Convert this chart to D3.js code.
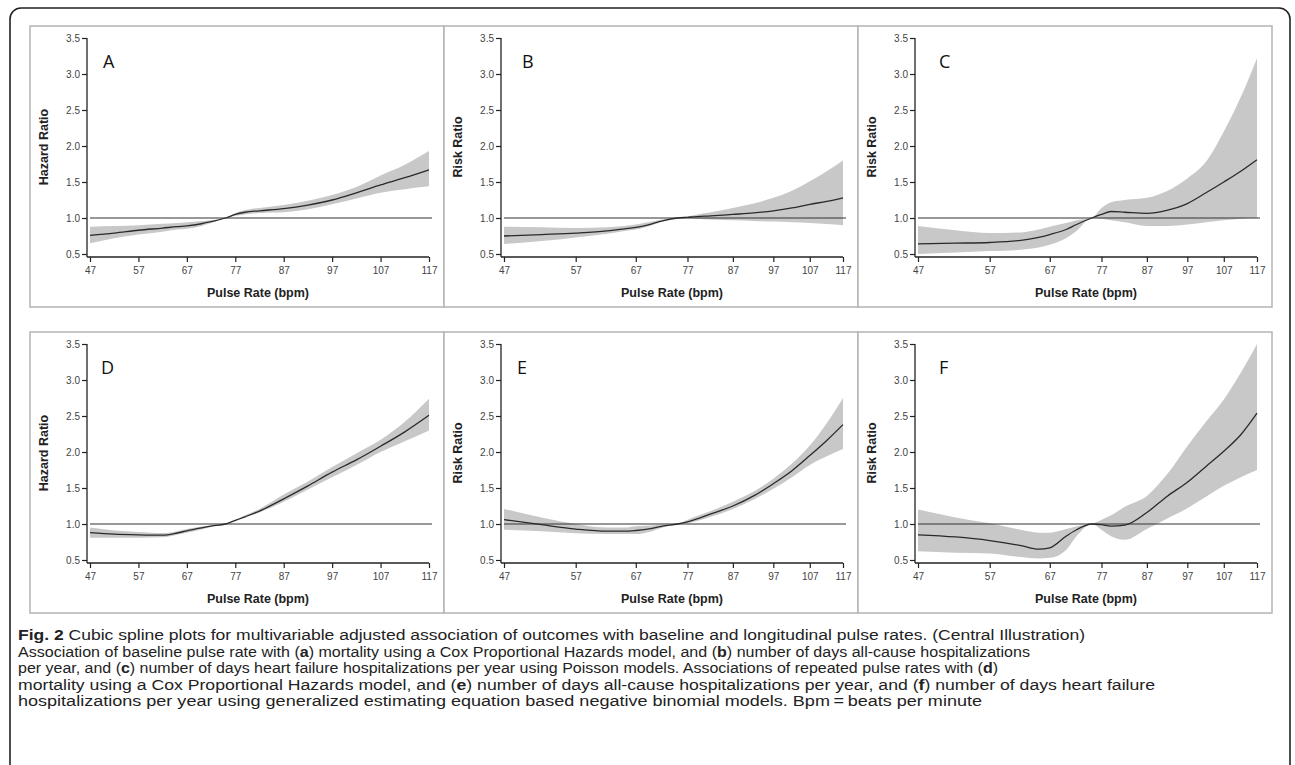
<!DOCTYPE html>
<html>
<head>
<meta charset="utf-8">
<script src="https://cdnjs.cloudflare.com/ajax/libs/d3/7.8.5/d3.min.js"></script>
<style>
  body { margin: 0; background: #fff; }
  svg { display: block; }
</style>
</head>
<body>
<div id="viz"></div>
<script>
// pulse rate grid shared by every panel
var pulse = [47, 52, 57, 62, 65, 67, 70, 72, 75, 77, 79, 82, 87, 92, 97, 102, 107, 112, 117];

// A: baseline pulse, mortality (Cox)
var estA = [0.76, 0.79, 0.83, 0.86, 0.88, 0.89, 0.92, 0.95, 1.00, 1.05, 1.08, 1.10, 1.13, 1.18, 1.25, 1.35, 1.46, 1.56, 1.67];
var loA  = [0.65, 0.72, 0.77, 0.81, 0.84, 0.85, 0.89, 0.93, 1.00, 1.03, 1.05, 1.07, 1.08, 1.12, 1.19, 1.27, 1.35, 1.40, 1.44];
var hiA  = [0.88, 0.89, 0.90, 0.92, 0.93, 0.94, 0.96, 0.97, 1.00, 1.07, 1.11, 1.14, 1.18, 1.24, 1.32, 1.43, 1.59, 1.74, 1.93];
// B: baseline pulse, all-cause hospitalization days (Poisson)
var estB = [0.75, 0.77, 0.79, 0.82, 0.85, 0.87, 0.92, 0.96, 1.00, 1.01, 1.02, 1.03, 1.05, 1.07, 1.10, 1.14, 1.19, 1.23, 1.28];
var loB  = [0.64, 0.68, 0.73, 0.78, 0.82, 0.84, 0.90, 0.95, 1.00, 1.00, 0.99, 0.98, 0.97, 0.96, 0.95, 0.94, 0.93, 0.915, 0.90];
var hiB  = [0.88, 0.87, 0.86, 0.87, 0.89, 0.91, 0.95, 0.98, 1.00, 1.02, 1.05, 1.08, 1.14, 1.20, 1.28, 1.38, 1.51, 1.65, 1.80];
// C: baseline pulse, heart failure hospitalization days (Poisson)
var estC = [0.64, 0.65, 0.66, 0.69, 0.73, 0.77, 0.84, 0.91, 1.00, 1.05, 1.09, 1.08, 1.065, 1.11, 1.20, 1.35, 1.50, 1.65, 1.81];
var loC  = [0.50, 0.52, 0.54, 0.56, 0.59, 0.63, 0.72, 0.82, 1.00, 0.99, 0.97, 0.94, 0.89, 0.89, 0.91, 0.94, 0.97, 0.99, 1.00];
var hiC  = [0.89, 0.83, 0.79, 0.80, 0.84, 0.88, 0.93, 0.97, 1.00, 1.14, 1.22, 1.25, 1.28, 1.38, 1.55, 1.78, 2.20, 2.68, 3.22];
// D: repeated pulse, mortality (Cox)
var estD = [0.88, 0.86, 0.85, 0.845, 0.875, 0.905, 0.945, 0.97, 1.00, 1.05, 1.10, 1.18, 1.35, 1.53, 1.72, 1.89, 2.08, 2.28, 2.51];
var loD  = [0.81, 0.81, 0.81, 0.815, 0.85, 0.88, 0.925, 0.96, 1.00, 1.04, 1.09, 1.16, 1.31, 1.48, 1.65, 1.82, 2.00, 2.15, 2.30];
var hiD  = [0.95, 0.91, 0.89, 0.875, 0.90, 0.93, 0.965, 0.98, 1.00, 1.06, 1.12, 1.21, 1.41, 1.59, 1.79, 1.98, 2.17, 2.42, 2.74];
// E: repeated pulse, all-cause hospitalization days (GEE)
var estE = [1.06, 0.99, 0.93, 0.90, 0.90, 0.91, 0.94, 0.97, 1.00, 1.03, 1.07, 1.14, 1.25, 1.39, 1.56, 1.74, 1.95, 2.16, 2.38];
var loE  = [0.92, 0.90, 0.87, 0.86, 0.86, 0.86, 0.90, 0.95, 1.00, 1.01, 1.04, 1.10, 1.21, 1.34, 1.49, 1.65, 1.82, 1.94, 2.04];
var hiE  = [1.21, 1.09, 1.00, 0.95, 0.95, 0.97, 0.98, 0.99, 1.00, 1.06, 1.11, 1.18, 1.31, 1.45, 1.63, 1.84, 2.09, 2.40, 2.75];
// F: repeated pulse, heart failure hospitalization days (GEE)
var estF = [0.85, 0.82, 0.77, 0.70, 0.65, 0.67, 0.83, 0.92, 1.00, 0.99, 0.97, 0.985, 1.16, 1.39, 1.58, 1.80, 2.01, 2.24, 2.54];
var loF  = [0.62, 0.60, 0.59, 0.54, 0.52, 0.53, 0.64, 0.83, 1.00, 0.92, 0.83, 0.78, 0.93, 1.08, 1.22, 1.38, 1.53, 1.65, 1.75];
var hiF  = [1.20, 1.09, 1.01, 0.92, 0.88, 0.88, 0.93, 0.97, 1.00, 1.06, 1.12, 1.24, 1.39, 1.70, 2.08, 2.42, 2.73, 3.10, 3.50];

var xTicks = [47, 57, 67, 77, 87, 97, 107, 117];
var yTicks = [0.5, 1.0, 1.5, 2.0, 2.5, 3.0, 3.5];
var letters = ["A", "B", "C", "D", "E", "F"];
var yTitles = ["Hazard Ratio", "Risk Ratio", "Risk Ratio", "Hazard Ratio", "Risk Ratio", "Risk Ratio"];
var xScaleTypes = ["linear", "log", "log", "linear", "log", "log"];
var xTitle = "Pulse Rate (bpm)";

var panels = [
  {est: estA, lo: loA, hi: hiA},
  {est: estB, lo: loB, hi: hiB},
  {est: estC, lo: loC, hi: hiC},
  {est: estD, lo: loD, hi: hiD},
  {est: estE, lo: loE, hi: hiE},
  {est: estF, lo: loF, hi: hiF}
];

var w = 1295, h = 765;
var svg = d3.select("#viz").append("svg")
    .attr("width", w)
    .attr("height", h);

// outer frame, runs off the bottom of the page
svg.append("rect")
    .attr("x", 10).attr("y", 8)
    .attr("width", 1280).attr("height", 820)
    .attr("rx", 11)
    .style("fill", "none")
    .style("stroke", "#222")
    .style("stroke-width", 1.6);

var colX = [30, 444, 858], rowY = [26, 332];
var pw = 414, ph = 281;
var letterDx = [16, 21, 24, 14, 16, 24];

panels.forEach(function(p, i) {
  var x0 = colX[i % 3], y0 = rowY[Math.floor(i / 3)];
  var g = svg.append("g");

  g.append("rect")
      .attr("x", x0).attr("y", y0)
      .attr("width", pw).attr("height", ph)
      .style("fill", "#fff")
      .style("stroke", "#b4b4b4")
      .style("stroke-width", 1.5);

  var axisX = x0 + 57, axisY = y0 + 231;
  var x = (xScaleTypes[i] == "log" ? d3.scaleLog() : d3.scaleLinear())
      .domain([47, 117])
      .range([x0 + 60, x0 + 399]);
  var y = d3.scaleLinear()
      .domain([0.5, 3.5])
      .range([y0 + 228, y0 + 12]);

  var pts = pulse.map(function(v, k) { return {x: v, est: p.est[k], lo: p.lo[k], hi: p.hi[k]}; });

  var band = d3.area()
      .x(function(d) { return x(d.x); })
      .y0(function(d) { return y(d.lo); })
      .y1(function(d) { return y(Math.min(d.hi, 3.5)); })
      .curve(d3.curveMonotoneX);
  var line = d3.line()
      .x(function(d) { return x(d.x); })
      .y(function(d) { return y(d.est); })
      .curve(d3.curveMonotoneX);

  g.append("path").datum(pts)
      .attr("d", band)
      .style("fill", "#c8c8c8");

  g.append("line")
      .attr("x1", x(47)).attr("x2", x(117) + 3)
      .attr("y1", y(1)).attr("y2", y(1))
      .style("stroke", "#333")
      .style("stroke-width", 1.1);

  g.append("path").datum(pts)
      .attr("d", line)
      .style("fill", "none")
      .style("stroke", "#2a2a2a")
      .style("stroke-width", 1.3);

  // axes
  var yAxis = g.append("g")
      .attr("transform", "translate(" + axisX + ",0)")
      .call(d3.axisLeft(y).tickValues(yTicks).tickFormat(d3.format(".1f")).tickSize(5).tickPadding(2));
  var xAxis = g.append("g")
      .attr("transform", "translate(0," + axisY + ")")
      .call(d3.axisBottom(x).tickValues(xTicks).tickFormat(d3.format("d")).tickSize(5).tickPadding(5));

  [yAxis, xAxis].forEach(function(a) {
    a.select(".domain").remove();
    a.selectAll(".tick line").style("stroke", "#222").style("stroke-width", 1.2);
    a.selectAll(".tick text")
        .style("font-family", "'Liberation Sans', Arial, sans-serif")
        .style("font-size", "10px")
        .style("fill", "#444");
  });

  g.append("line")
      .attr("x1", axisX).attr("x2", axisX)
      .attr("y1", y(3.5)).attr("y2", axisY)
      .style("stroke", "#222").style("stroke-width", 1.3);
  g.append("line")
      .attr("x1", axisX).attr("x2", x(117))
      .attr("y1", axisY).attr("y2", axisY)
      .style("stroke", "#222").style("stroke-width", 1.3);

  g.append("text")
      .attr("x", (axisX + x(117)) / 2)
      .attr("y", y0 + 271)
      .attr("text-anchor", "middle")
      .style("font-family", "'Liberation Sans', Arial, sans-serif")
      .style("font-weight", "bold")
      .style("font-size", "12.5px")
      .style("fill", "#222")
      .text(xTitle);

  g.append("text")
      .attr("transform", "translate(" + (x0 + 18) + "," + (y0 + 121) + ") rotate(-90)")
      .attr("text-anchor", "middle")
      .style("font-family", "'Liberation Sans', Arial, sans-serif")
      .style("font-weight", "bold")
      .style("font-size", "12.5px")
      .style("fill", "#222")
      .text(yTitles[i]);

  g.append("text")
      .attr("x", axisX + letterDx[i])
      .attr("y", y0 + 42)
      .style("font-family", "'Open Sans', sans-serif")
      .style("font-size", "18px")
      .style("fill", "#111")
      .text(letters[i]);
});

// caption, bold runs marked with *
var caption = [
  ["*Fig. 2", " Cubic spline plots for multivariable adjusted association of outcomes with baseline and longitudinal pulse rates. (Central Illustration)"],
  ["Association of baseline pulse rate with (", "*a", ") mortality using a Cox Proportional Hazards model, and (", "*b", ") number of days all-cause hospitalizations"],
  ["per year, and (", "*c", ") number of days heart failure hospitalizations per year using Poisson models. Associations of repeated pulse rates with (", "*d", ")"],
  ["mortality using a Cox Proportional Hazards model, and (", "*e", ") number of days all-cause hospitalizations per year, and (", "*f", ") number of days heart failure"],
  ["hospitalizations per year using generalized estimating equation based negative binomial models. Bpm\u2009=\u2009beats per minute"]
];
// right edge of each caption line in the page
var captionRight = [1085, 1030, 998, 1155, 982];

caption.forEach(function(parts, k) {
  var t = svg.append("text")
      .attr("x", 18)
      .attr("y", 640 + k * 16.5)
      .attr("textLength", captionRight[k] - 18)
      .attr("lengthAdjust", "spacingAndGlyphs")
      .style("font-family", "'Liberation Sans Narrow', 'Liberation Sans', sans-serif")
      .style("font-size", "14px")
      .style("fill", "#222");
  parts.forEach(function(s) {
    var bold = s.charAt(0) == "*";
    t.append("tspan")
        .style("font-weight", bold ? "bold" : "normal")
        .text(bold ? s.slice(1) : s);
  });
});
</script>
</body>
</html>
